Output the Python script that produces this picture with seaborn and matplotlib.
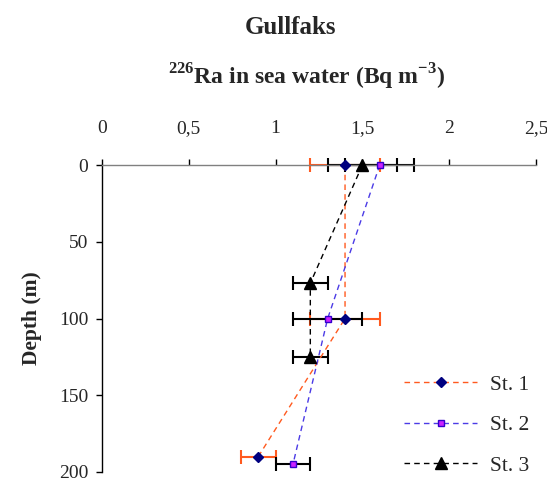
import matplotlib
matplotlib.use("Agg")
import matplotlib.pyplot as plt
import seaborn as sns
import pandas as pd

# Data
st1_depth = [0, 100, 190]
st1_val = [1.4, 1.4, 0.9]
st1_err = [0.2, 0.2, 0.1]

st2_depth = [0, 100, 195]
st2_val = [1.6, 1.3, 1.1]
st2_err = [0.2, 0.2, 0.1]

st3_depth = [0, 77, 125]
st3_val = [1.5, 1.2, 1.2]
st3_err = [0.2, 0.1, 0.1]

x_ticks = [0, 0.5, 1, 1.5, 2, 2.5]
x_ticklabels = ["0", "0,5", "1", "1,5", "2", "2,5"]
y_ticks = [0, 50, 100, 150, 200]

sns.set_style("white")
plt.rcParams["font.family"] = ["Liberation Serif", "DejaVu Serif"]
plt.rcParams["mathtext.fontset"] = "custom"
plt.rcParams["mathtext.rm"] = "Liberation Serif"
plt.rcParams["mathtext.bf"] = "Liberation Serif:bold"

fig = plt.figure(figsize=(5.47, 4.87), dpi=100)
ax = fig.add_axes([102/547, 1-472/487, (536-102)/547, (472-165)/487])

series = [
    ("St. 1", st1_depth, st1_val, st1_err, "#FF5A1F", "D", "#000080", "#000080", 5, "#FF5A1F"),
    ("St. 2", st2_depth, st2_val, st2_err, "#4B3BE6", "s", "#CC22FF", "#3300CC", 5, "black"),
    ("St. 3", st3_depth, st3_val, st3_err, "black", "^", "black", "black", 9, "black"),
]

for name, d, v, e, lc, mk, mfc, mec, ms, ec in series:
    eb = ax.errorbar(v, d, xerr=e, fmt="none", ecolor=ec, elinewidth=1.5,
                     capsize=5, capthick=1.5, zorder=2)
    for art in eb.lines[1] + eb.lines[2]:
        art.set_clip_on(False)

for name, d, v, e, lc, mk, mfc, mec, ms, ec in series:
    df = pd.DataFrame({"val": v, "depth": d})
    sns.lineplot(data=df, x="val", y="depth", sort=False, estimator=None,
                 ax=ax, color=lc,
                 linestyle=(0, (4, 3)), linewidth=1, marker=mk, markersize=ms,
                 markerfacecolor=mfc, markeredgecolor=mec, markeredgewidth=1,
                 label=name, zorder=3, clip_on=False)

ax.set_xlim(0, 2.5)
ax.set_ylim(200, 0)
ax.xaxis.tick_top()
ax.set_xticks(x_ticks)
ax.set_xticklabels(x_ticklabels)
ax.set_yticks(y_ticks)
ax.tick_params(axis="x", top=True, bottom=False, direction="out", length=4,
               labelsize=14, pad=16, color="black", width=1)
ax.tick_params(axis="y", left=True, direction="out", length=4, labelsize=14,
               pad=6, color="black", width=1)
for s in ["right", "bottom"]:
    ax.spines[s].set_visible(False)
ax.spines["top"].set_color("#808080")
ax.spines["top"].set_linewidth(1)
ax.spines["left"].set_color("black")
ax.spines["left"].set_linewidth(1)

ax.set_xlabel("")
ax.set_ylabel("Depth (m)", fontsize=15.5, fontweight="bold", labelpad=12)

fig.text(290/547, 1-27/487, "Gullfaks", ha="center", va="center",
         fontsize=18, fontweight="bold")
fig.text(307/547, 1-77/487,
         r"$^{\mathbf{226}}$Ra in sea water (Bq m$^{\mathbf{-3}}$)",
         ha="center", va="center", fontsize=17, fontweight="bold")

leg = ax.legend(loc="lower right", frameon=False, fontsize=15.5,
                handlelength=3.4, labelspacing=0.95, handletextpad=0.6,
                bbox_to_anchor=(1.03, -0.075))

fig.savefig("out.png", dpi=100)
